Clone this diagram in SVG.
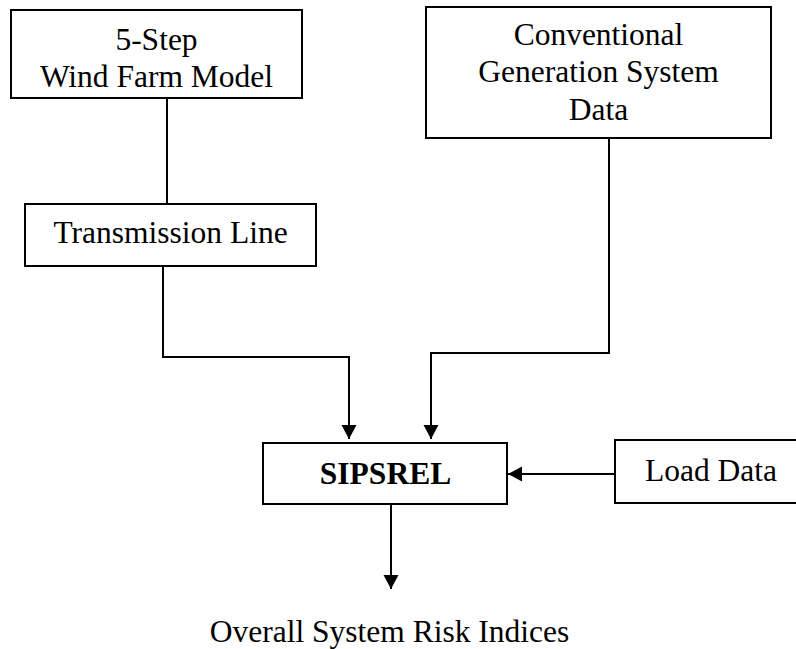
<svg xmlns="http://www.w3.org/2000/svg" width="796" height="649" viewBox="0 0 796 649">
<style>
.box{fill:#fff;stroke:#000;stroke-width:2}
.t{font-family:"Liberation Serif","Times New Roman",serif;font-size:31.5px;fill:#000;text-anchor:middle}
.b{font-weight:bold}
.c{fill:none;stroke:#000;stroke-width:2}
</style>
<defs>
<marker id="ah" markerUnits="userSpaceOnUse" markerWidth="16" markerHeight="16" refX="14" refY="8" orient="auto">
<path d="M0,0.5 L14,8 L0,15.5 Z" fill="#000"/>
</marker>
</defs>
<rect width="796" height="649" fill="#fff"/>
<g id="connectors">
<path class="c" d="M167,98 V204"/>
<path class="c" d="M163,266 V357 H349 V439" marker-end="url(#ah)"/>
<path class="c" d="M609,138 V353 H431 V439" marker-end="url(#ah)"/>
<path class="c" d="M615,474 H508" marker-end="url(#ah)"/>
<path class="c" d="M391,504 V589" marker-end="url(#ah)"/>
</g>
<g id="wind">
<rect class="box" x="11" y="10" width="291" height="88"/>
<text class="t" x="156.5" y="50">5-Step</text>
<text class="t" x="156.5" y="87">Wind Farm Model</text>
</g>
<g id="conventional">
<rect class="box" x="426" y="7" width="345" height="131"/>
<text class="t" x="598.5" y="45">Conventional</text>
<text class="t" x="598.5" y="82">Generation System</text>
<text class="t" x="598.5" y="120">Data</text>
</g>
<g id="transmission">
<rect class="box" x="25" y="204" width="291" height="62"/>
<text class="t" x="170.5" y="243">Transmission Line</text>
</g>
<g id="sipsrel">
<rect class="box" x="263" y="443" width="244" height="61"/>
<text class="t b" x="385.5" y="484">SIPSREL</text>
</g>
<g id="load">
<rect class="box" x="615" y="440" width="195" height="63"/>
<text class="t" x="711" y="481">Load Data</text>
</g>
<g id="output">
<text class="t" x="389.5" y="642">Overall System Risk Indices</text>
</g>
</svg>
